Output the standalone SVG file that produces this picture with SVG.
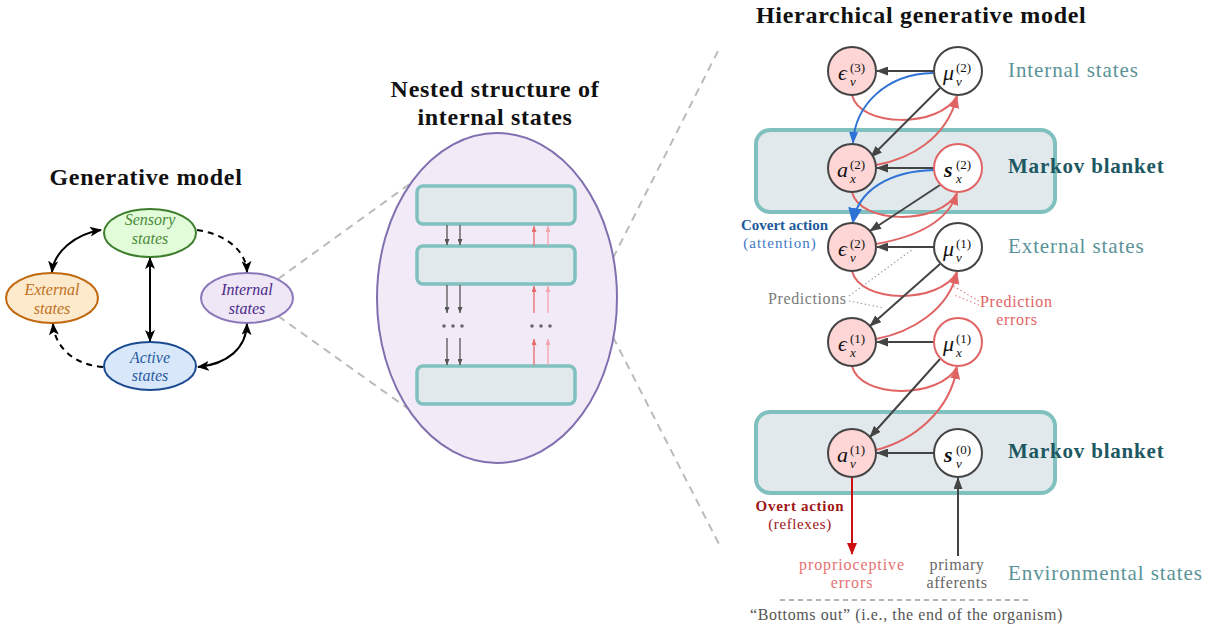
<svg xmlns="http://www.w3.org/2000/svg" width="1215" height="629" viewBox="0 0 1215 629">
<defs>
<style>
text{font-family:"Liberation Serif","DejaVu Serif",serif}
.title{font-weight:bold;font-size:24px;fill:#111;letter-spacing:0.7px;text-anchor:middle}
.el-lbl{font-style:italic;font-size:16px;text-anchor:middle}
.side{font-size:21px;fill:#5a9398;letter-spacing:0.9px}
.mb{font-size:21px;font-weight:bold;fill:#1d5862;letter-spacing:0.8px}
.mbox{fill:#e1e9ec;stroke:#80c1c0;stroke-width:4}
.nbox{fill:#e1e9ec;stroke:#80c1c0;stroke-width:3.5}
.node{stroke-width:2}
.pk{fill:#ffd6d6;stroke:#444}
.wh{fill:#fff;stroke:#444}
.wr{fill:#fff;stroke:#e06464}
.sym{font-style:italic;font-size:22px;fill:#111}
.sup{font-size:13px;fill:#111}
.sub{font-style:italic;font-size:13px;fill:#111}
.dk{stroke:#444;stroke-width:2;fill:none}
.rd{stroke:#e06464;stroke-width:2;fill:none}
.bl{stroke:#2f72d6;stroke-width:2;fill:none}
.bk{stroke:#000;stroke-width:2;fill:none}
.dash{stroke-dasharray:6 5}
.gd{stroke:#bbb;stroke-width:2;stroke-dasharray:8 6;fill:none}
.c{text-anchor:middle}
</style>
<marker id="aBk" viewBox="0 0 12 10" refX="11" refY="5" markerWidth="12" markerHeight="10" markerUnits="userSpaceOnUse" orient="auto-start-reverse"><path d="M0,0 L12,5 L0,10 L3,5 z" fill="#000"/></marker>
<marker id="aDk" viewBox="0 0 12 9" refX="11" refY="4.5" markerWidth="12" markerHeight="9" markerUnits="userSpaceOnUse" orient="auto-start-reverse"><path d="M0,0 L12,4.5 L0,9 z" fill="#444"/></marker>
<marker id="aRd" viewBox="0 0 12 10" refX="11" refY="5" markerWidth="12" markerHeight="10" markerUnits="userSpaceOnUse" orient="auto"><path d="M0,0 L12,5 L0,10 z" fill="#e06464"/></marker>
<marker id="aBl" viewBox="0 0 12 9" refX="11" refY="4.5" markerWidth="12" markerHeight="9" markerUnits="userSpaceOnUse" orient="auto"><path d="M0,0 L12,4.5 L0,9 z" fill="#2f72d6"/></marker>
<marker id="aBl2" viewBox="0 0 16 14" refX="14" refY="7" markerWidth="16" markerHeight="14" markerUnits="userSpaceOnUse" orient="auto"><path d="M0,0 L16,7 L0,14 z" fill="#2f72d6"/></marker>
<marker id="aDr" viewBox="0 0 12 10" refX="11" refY="5" markerWidth="12" markerHeight="10" markerUnits="userSpaceOnUse" orient="auto"><path d="M0,0 L12,5 L0,10 z" fill="#cc1010"/></marker>
<marker id="sDk" viewBox="0 0 6 5" refX="6" refY="2.5" markerWidth="6" markerHeight="5" markerUnits="userSpaceOnUse" orient="auto"><path d="M0,0 L6,2.5 L0,5 z" fill="#555"/></marker>
<marker id="sRd" viewBox="0 0 6 5" refX="6" refY="2.5" markerWidth="6" markerHeight="5" markerUnits="userSpaceOnUse" orient="auto"><path d="M0,0 L6,2.5 L0,5 z" fill="#e56a6a"/></marker>
<marker id="sPk" viewBox="0 0 6 5" refX="6" refY="2.5" markerWidth="6" markerHeight="5" markerUnits="userSpaceOnUse" orient="auto"><path d="M0,0 L6,2.5 L0,5 z" fill="#f2a5ab"/></marker>
</defs>

<!-- titles -->
<text class="title" x="146" y="185">Generative model</text>
<text class="title" x="495" y="97">Nested structure of</text>
<text class="title" x="495" y="125">internal states</text>
<text class="title" x="756" y="23" style="text-anchor:start">Hierarchical generative model</text>

<!-- zoom guide lines -->
<g id="guides">
<path class="gd" d="M278,279 L411,183"/>
<path class="gd" d="M278,316 L410,410"/>
<path class="gd" d="M613,258 L720,47"/>
<path class="gd" d="M613,337 L720,546"/>
</g>

<!-- Left: generative model nodes -->
<g id="n-sensory">
<ellipse cx="150" cy="233" rx="46" ry="24" fill="#e2fbd8" stroke="#3d7d2c" stroke-width="2"/>
<text class="el-lbl" x="150" y="225" fill="#4a8a3a">Sensory</text>
<text class="el-lbl" x="150" y="244" fill="#4a8a3a">states</text>
</g>
<g id="n-external">
<ellipse cx="52" cy="298" rx="46" ry="25" fill="#fde9cc" stroke="#c06810" stroke-width="2"/>
<text class="el-lbl" x="52" y="295" fill="#c07020">External</text>
<text class="el-lbl" x="52" y="314" fill="#c07020">states</text>
</g>
<g id="n-internal">
<ellipse cx="247" cy="298" rx="46" ry="25" fill="#efe6f6" stroke="#8a78b8" stroke-width="2"/>
<text class="el-lbl" x="247" y="295" fill="#4a2a8a">Internal</text>
<text class="el-lbl" x="247" y="314" fill="#4a2a8a">states</text>
</g>
<g id="n-active">
<ellipse cx="150" cy="366" rx="46" ry="24" fill="#d8e8fa" stroke="#1a4a90" stroke-width="2"/>
<text class="el-lbl" x="150" y="363" fill="#2a5aa0">Active</text>
<text class="el-lbl" x="150" y="381" fill="#2a5aa0">states</text>
</g>

<!-- Middle: nested structure -->
<g id="n-nested">
<ellipse cx="497" cy="298" rx="120" ry="165" fill="#f3eaf8" stroke="#8070b0" stroke-width="2"/>
<rect class="nbox" x="417" y="186" width="158" height="38" rx="6"/>
<rect class="nbox" x="417" y="246" width="158" height="38" rx="6"/>
<rect class="nbox" x="417" y="366" width="158" height="38" rx="6"/>
<g fill="#666">
<circle cx="444" cy="326" r="1.8"/><circle cx="453" cy="326" r="1.8"/><circle cx="462" cy="326" r="1.8"/>
<circle cx="532" cy="326" r="1.8"/><circle cx="541" cy="326" r="1.8"/><circle cx="550" cy="326" r="1.8"/>
</g>
</g>

<!-- Right: Markov blanket boxes -->
<g id="mb-top"><rect class="mbox" x="756" y="130" width="299" height="82" rx="14"/></g>
<g id="mb-bottom"><rect class="mbox" x="756" y="412" width="299" height="81" rx="14"/></g>

<!-- connectors -->
<g id="connectors">
<!-- left -->
<path class="bk" d="M52,272 C54,252 75,234 101,230" marker-start="url(#aBk)" marker-end="url(#aBk)"/>
<path class="bk dash" d="M197,230 C225,234 246,250 247,272" marker-end="url(#aBk)"/>
<path class="bk" d="M150,258 L150,341" marker-start="url(#aBk)" marker-end="url(#aBk)"/>
<path class="bk dash" d="M103,367 C75,365 55,348 53,324" marker-end="url(#aBk)"/>
<path class="bk" d="M247,324 C246,348 228,364 198,367" marker-start="url(#aBk)" marker-end="url(#aBk)"/>
<!-- middle -->
<g fill="none" stroke-width="1.3">
<path d="M447,225 L447,245" stroke="#555" marker-end="url(#sDk)"/>
<path d="M460,225 L460,245" stroke="#555" marker-end="url(#sDk)"/>
<path d="M447,285 L447,313" stroke="#555" marker-end="url(#sDk)"/>
<path d="M460,285 L460,313" stroke="#555" marker-end="url(#sDk)"/>
<path d="M447,338 L447,365" stroke="#555" marker-end="url(#sDk)"/>
<path d="M460,338 L460,365" stroke="#555" marker-end="url(#sDk)"/>
<path d="M534,246 L534,226" stroke="#e56a6a" marker-end="url(#sRd)"/>
<path d="M548,246 L548,226" stroke="#f2a5ab" marker-end="url(#sPk)"/>
<path d="M534,313 L534,286" stroke="#e56a6a" marker-end="url(#sRd)"/>
<path d="M548,313 L548,286" stroke="#f2a5ab" marker-end="url(#sPk)"/>
<path d="M534,365 L534,339" stroke="#e56a6a" marker-end="url(#sRd)"/>
<path d="M548,365 L548,339" stroke="#f2a5ab" marker-end="url(#sPk)"/>
</g>
<!-- right: red prediction errors -->
<path class="rd" d="M852,95 C860,128 940,128 957,96"/>
<path class="rd" d="M876,165 C910,159 946,139 957,97" marker-end="url(#aRd)"/>
<path class="rd" d="M852,192 C860,225 940,225 957,193"/>
<path class="rd" d="M876,244 C910,238 946,225 957,194" marker-end="url(#aRd)"/>
<path class="rd" d="M852,271 C860,304 940,304 957,272"/>
<path class="rd" d="M876,339 C912,332 948,310 957,273" marker-end="url(#aRd)"/>
<path class="rd" d="M852,366 C860,399 940,399 957,367"/>
<path class="rd" d="M876,450 C915,440 950,410 957,368" marker-end="url(#aRd)"/>
<!-- right: predictions -->
<path class="dk" d="M934,71 L877,71" marker-end="url(#aDk)"/>
<path class="dk" d="M940,88 L871,157" marker-end="url(#aDk)"/>
<path class="dk" d="M934,168 L877,168" marker-end="url(#aDk)"/>
<path class="dk" d="M940,185 L870,231" marker-end="url(#aDk)"/>
<path class="dk" d="M934,247 L877,247" marker-end="url(#aDk)"/>
<path class="dk" d="M940,264 L870,326" marker-end="url(#aDk)"/>
<path class="dk" d="M934,342 L877,342" marker-end="url(#aDk)"/>
<path class="dk" d="M940,359 L870,437" marker-end="url(#aDk)"/>
<path class="dk" d="M934,453 L877,453" marker-end="url(#aDk)"/>
<path class="dk" d="M958,556 L958,478" marker-end="url(#aDk)"/>
<!-- blue covert action -->
<path class="bl" d="M933,73 C886,74 855,105 853,143" marker-end="url(#aBl)"/>
<path class="bl" d="M934,170 C890,171 858,190 853,222" stroke-width="3.5" marker-end="url(#aBl2)"/>
<!-- overt action -->
<path d="M852,477 L852,554" stroke="#cc1010" stroke-width="2" fill="none" marker-end="url(#aDr)"/>
<!-- annotation dotted lines -->
<path d="M849,296 L913,249 M849,301 L884,308" stroke="#999" stroke-width="1.1" stroke-dasharray="1.5 2.5" fill="none"/>
<path d="M979,301 L953,286 M979,305 L954,295" stroke="#e58080" stroke-width="1.1" stroke-dasharray="1.5 2.5" fill="none"/>
</g>

<!-- right nodes -->
<g id="n-eps-v3"><circle class="node pk" cx="852" cy="71" r="24"/><text class="sym" x="838" y="80">ϵ</text><text class="sup" x="850" y="72">(3)</text><text class="sub" x="850" y="86">v</text></g>
<g id="n-mu-v2"><circle class="node wh" cx="958" cy="71" r="24"/><text class="sym" x="943" y="80">μ</text><text class="sup" x="956" y="72">(2)</text><text class="sub" x="956" y="86">v</text></g>
<g id="n-a-x2"><circle class="node pk" cx="852" cy="168" r="24"/><text class="sym" x="837" y="177">a</text><text class="sup" x="850" y="169">(2)</text><text class="sub" x="850" y="183">x</text></g>
<g id="n-s-x2"><circle class="node wr" cx="958" cy="168" r="24"/><text class="sym" x="944" y="177" font-weight="bold">s</text><text class="sup" x="956" y="169">(2)</text><text class="sub" x="956" y="183">x</text></g>
<g id="n-eps-v2"><circle class="node pk" cx="852" cy="247" r="24"/><text class="sym" x="838" y="256">ϵ</text><text class="sup" x="850" y="248">(2)</text><text class="sub" x="850" y="262">v</text></g>
<g id="n-mu-v1"><circle class="node wh" cx="958" cy="247" r="24"/><text class="sym" x="943" y="256">μ</text><text class="sup" x="956" y="248">(1)</text><text class="sub" x="956" y="262">v</text></g>
<g id="n-eps-x1"><circle class="node pk" cx="852" cy="342" r="24"/><text class="sym" x="838" y="351">ϵ</text><text class="sup" x="850" y="343">(1)</text><text class="sub" x="850" y="357">x</text></g>
<g id="n-mu-x1"><circle class="node wr" cx="958" cy="342" r="24"/><text class="sym" x="943" y="351">μ</text><text class="sup" x="956" y="343">(1)</text><text class="sub" x="956" y="357">x</text></g>
<g id="n-a-v1"><circle class="node pk" cx="852" cy="453" r="24"/><text class="sym" x="837" y="462">a</text><text class="sup" x="850" y="454">(1)</text><text class="sub" x="850" y="468">v</text></g>
<g id="n-s-v0"><circle class="node wh" cx="958" cy="453" r="24"/><text class="sym" x="944" y="462" font-weight="bold">s</text><text class="sup" x="956" y="454">(0)</text><text class="sub" x="956" y="468">v</text></g>

<!-- right labels -->
<text class="side" x="1008" y="77">Internal states</text>
<text class="mb" x="1008" y="173">Markov blanket</text>
<text class="side" x="1008" y="253">External states</text>
<text class="mb" x="1008" y="458">Markov blanket</text>
<text class="side" x="1008" y="580">Environmental states</text>

<text x="828" y="230" font-size="15" font-weight="bold" fill="#1d5a9a" text-anchor="end">Covert action</text>
<text x="780" y="248" font-size="15" fill="#3f78c4" class="c" letter-spacing="1">(attention)</text>
<text x="768" y="304" font-size="16" fill="#7a7a7a" letter-spacing="0.6">Predictions</text>
<text x="980" y="307" font-size="16" fill="#e06464" letter-spacing="0.7">Prediction</text>
<text x="1017" y="325" font-size="16" fill="#e06464" class="c" letter-spacing="0.7">errors</text>
<text x="800" y="511" font-size="15" font-weight="bold" fill="#a01515" class="c" letter-spacing="0.7">Overt action</text>
<text x="800" y="529" font-size="15" fill="#a01515" class="c" letter-spacing="0.6">(reflexes)</text>
<text x="852" y="570" font-size="16" fill="#e57373" class="c" letter-spacing="0.9">proprioceptive</text>
<text x="852" y="588" font-size="16" fill="#e57373" class="c" letter-spacing="0.9">errors</text>
<text x="957" y="570" font-size="16" fill="#666" class="c" letter-spacing="0.6">primary</text>
<text x="957" y="588" font-size="16" fill="#666" class="c" letter-spacing="0.6">afferents</text>
<path d="M780,600 L1028,600" stroke="#666" stroke-width="1" stroke-dasharray="5 4"/>
<text x="750" y="620" font-size="16" fill="#555" letter-spacing="0.6">“Bottoms out” (i.e., the end of the organism)</text>
</svg>
